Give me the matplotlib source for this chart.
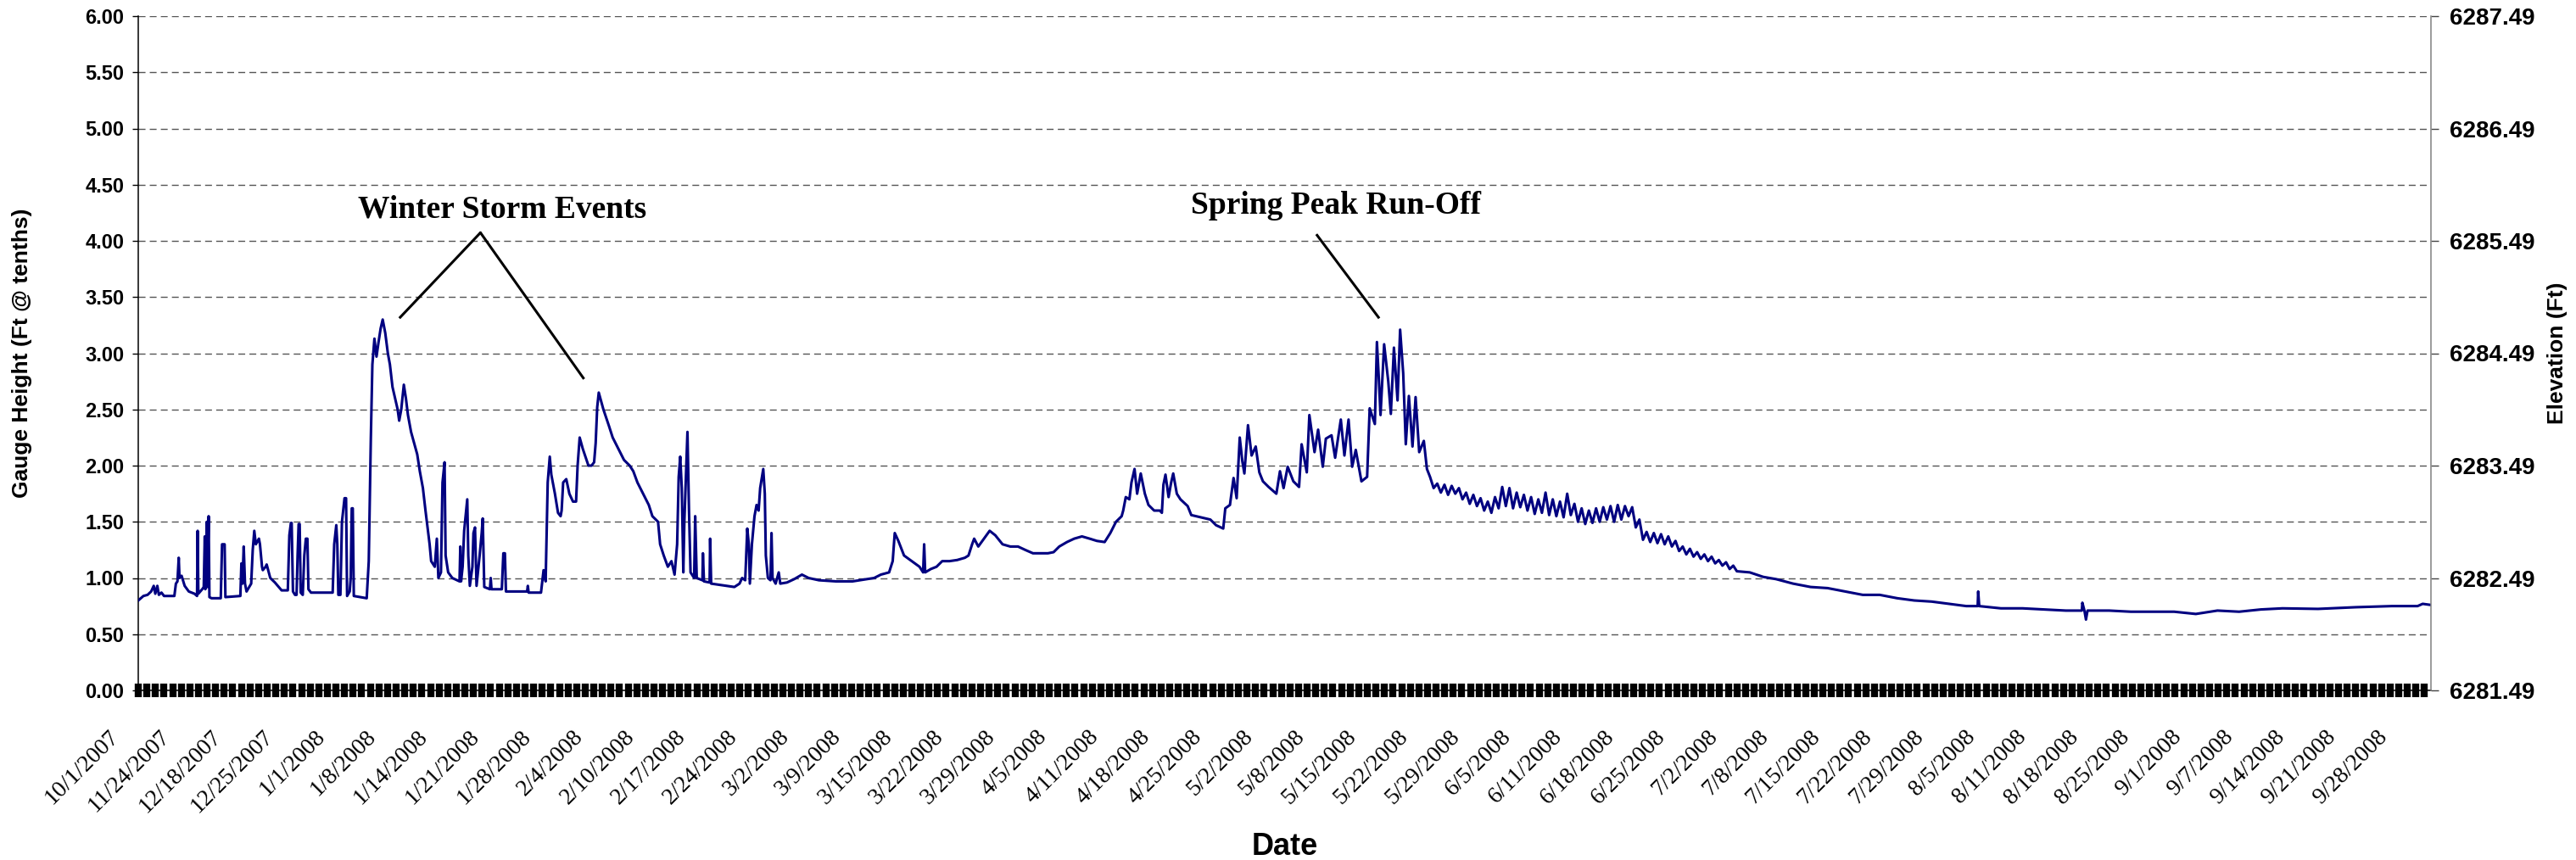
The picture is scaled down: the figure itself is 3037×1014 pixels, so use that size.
import numpy as np
import matplotlib
matplotlib.use("Agg")
import matplotlib.pyplot as plt
from matplotlib.ticker import MultipleLocator
from matplotlib.transforms import ScaledTranslation

# category axis: one unit = one labelled interval (about one week of readings)
date_labels = ["10/1/2007", "11/24/2007", "12/18/2007", "12/25/2007", "1/1/2008", "1/8/2008",
               "1/14/2008", "1/21/2008", "1/28/2008", "2/4/2008", "2/10/2008", "2/17/2008",
               "2/24/2008", "3/2/2008", "3/9/2008", "3/15/2008", "3/22/2008", "3/29/2008",
               "4/5/2008", "4/11/2008", "4/18/2008", "4/25/2008", "5/2/2008", "5/8/2008",
               "5/15/2008", "5/22/2008", "5/29/2008", "6/5/2008", "6/11/2008", "6/18/2008",
               "6/25/2008", "7/2/2008", "7/8/2008", "7/15/2008", "7/22/2008", "7/29/2008",
               "8/5/2008", "8/11/2008", "8/18/2008", "8/25/2008", "9/1/2008", "9/7/2008",
               "9/14/2008", "9/21/2008", "9/28/2008"]
n_positions = 44.46

# gauge readings: position along the category axis and gauge height (ft)
winter_pos = [0.00, 0.05, 0.10, 0.18, 0.25, 0.30, 0.33, 0.37, 0.40, 0.45,
              0.50, 0.70, 0.73, 0.76, 0.785, 0.80, 0.84, 0.90, 0.98, 1.09,
              1.14, 1.152, 1.165, 1.24, 1.27, 1.29, 1.30, 1.33, 1.34, 1.365,
              1.38, 1.42, 1.60, 1.625, 1.675, 1.69, 1.98, 2.00, 2.02, 2.045,
              2.07, 2.10, 2.19, 2.22, 2.25, 2.28, 2.34, 2.36, 2.40, 2.415,
              2.47, 2.49, 2.56, 2.65, 2.78, 2.90, 2.93, 2.96, 2.975, 3.00,
              3.04, 3.07, 3.09, 3.11, 3.13, 3.15, 3.19, 3.22, 3.25, 3.28,
              3.30, 3.35, 3.77, 3.80, 3.84, 3.86, 3.88, 3.92, 3.95, 4.00,
              4.03, 4.05, 4.10, 4.12, 4.14, 4.16, 4.18, 4.43, 4.47, 4.51,
              4.54, 4.58, 4.62, 4.66, 4.70, 4.74, 4.79, 4.84, 4.88, 4.93,
              4.98, 5.03, 5.06, 5.10, 5.15, 5.19, 5.23, 5.29, 5.35, 5.41,
              5.46, 5.52, 5.57, 5.61, 5.65, 5.68, 5.75, 5.79, 5.82, 5.87,
              5.90, 5.94, 5.96, 6.01, 6.09, 6.23, 6.245, 6.26, 6.29, 6.32,
              6.38, 6.40, 6.43, 6.48, 6.50, 6.53, 6.56, 6.62, 6.66, 6.68,
              6.71, 6.82, 6.835, 6.85, 7.05, 7.08, 7.11, 7.13, 7.54, 7.555,
              7.57, 7.81, 7.86, 7.90, 7.94, 7.98, 8.01, 8.08, 8.14, 8.19,
              8.21, 8.24, 8.30, 8.36, 8.43, 8.49, 8.52, 8.56, 8.62, 8.73,
              8.79, 8.84, 8.87, 8.90, 8.93, 9.02, 9.13, 9.20, 9.31, 9.42,
              9.53, 9.60, 9.68, 9.79, 9.90, 9.97, 10.08, 10.12, 10.19, 10.27,
              10.34, 10.40, 10.45, 10.48, 10.51, 10.54, 10.57, 10.59, 10.62, 10.65,
              10.68, 10.71, 10.78, 10.80, 10.83, 10.94, 10.95, 10.97, 11.08, 11.09,
              11.11, 11.56, 11.66, 11.71, 11.77, 11.81, 11.84, 11.86, 11.90, 11.95,
              11.99, 12.03, 12.06, 12.12, 12.15, 12.17, 12.21, 12.26, 12.28, 12.30,
              12.36, 12.42, 12.45, 12.58, 12.72, 12.87, 13.00, 13.20, 13.53, 13.85,
              14.27, 14.40, 14.56]
winter_ft = [0.80, 0.82, 0.84, 0.85, 0.88, 0.93, 0.86, 0.93, 0.85, 0.87,
             0.84, 0.84, 0.95, 0.97, 1.18, 1.00, 1.02, 0.93, 0.88, 0.86,
             0.84, 1.42, 0.86, 0.90, 0.92, 1.37, 0.90, 1.50, 0.92, 1.55,
             0.83, 0.82, 0.82, 1.30, 1.30, 0.83, 0.84, 1.13, 0.95, 1.28,
             0.95, 0.88, 0.95, 1.25, 1.42, 1.30, 1.35, 1.30, 1.10, 1.07,
             1.10, 1.12, 1.00, 0.96, 0.89, 0.89, 1.38, 1.49, 1.49, 0.88,
             0.85, 0.85, 1.20, 1.48, 1.48, 0.87, 0.85, 1.20, 1.35, 1.35,
             0.90, 0.87, 0.87, 1.30, 1.47, 1.30, 0.85, 0.85, 1.50, 1.71,
             1.71, 0.84, 0.88, 1.00, 1.62, 1.62, 0.84, 0.82, 1.15, 2.24,
             2.90, 3.13, 2.97, 3.10, 3.22, 3.30, 3.18, 3.00, 2.90, 2.70,
             2.60, 2.50, 2.40, 2.50, 2.72, 2.60, 2.45, 2.30, 2.20, 2.10,
             1.95, 1.80, 1.60, 1.45, 1.30, 1.15, 1.10, 1.35, 1.00, 1.05,
             1.85, 2.03, 1.20, 1.05, 1.00, 0.97, 1.28, 0.97, 1.10, 1.42,
             1.70, 1.20, 0.93, 1.10, 1.40, 1.45, 0.93, 1.20, 1.40, 1.53,
             0.92, 0.90, 1.00, 0.90, 0.90, 1.22, 1.22, 0.88, 0.88, 0.93,
             0.87, 0.87, 1.07, 0.97, 1.85, 2.08, 1.92, 1.75, 1.58, 1.55,
             1.60, 1.85, 1.88, 1.75, 1.68, 1.68, 2.00, 2.25, 2.15, 2.00,
             2.00, 2.03, 2.20, 2.52, 2.65, 2.50, 2.35, 2.25, 2.15, 2.05,
             2.00, 1.95, 1.85, 1.75, 1.65, 1.55, 1.50, 1.30, 1.20, 1.10,
             1.15, 1.03, 1.30, 1.90, 2.08, 1.80, 1.05, 1.50, 1.90, 2.30,
             1.60, 1.05, 1.00, 1.55, 1.00, 0.98, 1.22, 0.97, 0.96, 1.35,
             0.95, 0.92, 0.95, 1.00, 0.98, 1.44, 1.30, 0.95, 1.30, 1.55,
             1.65, 1.60, 1.80, 1.97, 1.75, 1.20, 1.00, 0.98, 1.40, 1.00,
             0.95, 1.05, 0.95, 0.96, 0.99, 1.03, 1.00, 0.98, 0.97, 0.97,
             1.00, 1.03, 1.05]

spring_pos = [14.63, 14.67, 14.74, 14.85, 15.00, 15.15, 15.22, 15.24, 15.26, 15.37,
              15.48, 15.59, 15.73, 15.88, 16.03, 16.10, 16.17, 16.21, 16.29, 16.40,
              16.51, 16.62, 16.76, 16.91, 17.06, 17.20, 17.35, 17.64, 17.75, 17.86,
              18.01, 18.15, 18.30, 18.45, 18.59, 18.74, 18.85, 18.96, 19.07, 19.10,
              19.15, 19.22, 19.26, 19.32, 19.37, 19.44, 19.52, 19.59, 19.70, 19.81,
              19.85, 19.88, 19.92, 19.98, 20.03, 20.07, 20.14, 20.21, 20.35, 20.42,
              20.79, 20.90, 21.04, 21.08, 21.17, 21.24, 21.30, 21.36, 21.41, 21.45,
              21.52, 21.59, 21.67, 21.74, 21.81, 21.92, 22.07, 22.14, 22.21, 22.29,
              22.40, 22.51, 22.56, 22.66, 22.71, 22.81, 22.88, 22.97, 23.03, 23.14,
              23.21, 23.32, 23.39, 23.47, 23.54, 23.61, 23.72, 23.83, 23.88, 23.98,
              24.02, 24.06, 24.09, 24.16, 24.24, 24.29, 24.35, 24.42, 24.47, 24.53,
              24.58, 24.64, 24.71, 24.77, 24.84, 24.93, 24.99]
spring_ft = [1.15, 1.40, 1.33, 1.20, 1.15, 1.10, 1.05, 1.30, 1.05, 1.08,
             1.10, 1.15, 1.15, 1.16, 1.18, 1.20, 1.30, 1.35, 1.28, 1.35,
             1.42, 1.38, 1.30, 1.28, 1.28, 1.25, 1.22, 1.22, 1.23, 1.28,
             1.32, 1.35, 1.37, 1.35, 1.33, 1.32, 1.40, 1.50, 1.55, 1.60,
             1.72, 1.70, 1.85, 1.97, 1.75, 1.93, 1.75, 1.65, 1.60, 1.60,
             1.58, 1.83, 1.92, 1.72, 1.85, 1.93, 1.75, 1.70, 1.64, 1.56,
             1.52, 1.47, 1.44, 1.62, 1.65, 1.89, 1.71, 2.25, 2.04, 1.93,
             2.36, 2.09, 2.17, 1.94, 1.86, 1.81, 1.75, 1.95, 1.80, 1.99,
             1.86, 1.81, 2.19, 1.94, 2.45, 2.12, 2.32, 1.99, 2.24, 2.27,
             2.07, 2.41, 2.09, 2.41, 1.99, 2.14, 1.86, 1.90, 2.51, 2.37,
             3.10, 2.75, 2.45, 3.08, 2.75, 2.46, 3.05, 2.58, 3.21, 2.82,
             2.19, 2.62, 2.17, 2.61, 2.12, 2.22, 1.97]

# recession after the peak, read at the daily highs and lows
recession_pos = [25.05, 25.12, 25.19, 25.26, 25.33, 25.40, 25.47, 25.54, 25.61, 25.68,
                 25.75, 25.82, 25.89, 25.96, 26.03, 26.10, 26.17, 26.24, 26.31, 26.38,
                 26.45, 26.52, 26.59, 26.66, 26.73, 26.80, 26.87, 26.94, 27.01, 27.08,
                 27.15, 27.22, 27.29, 27.36, 27.43, 27.50, 27.57, 27.64, 27.71, 27.78,
                 27.85, 27.92, 27.99, 28.06, 28.13, 28.20, 28.27, 28.34, 28.41, 28.48,
                 28.55, 28.62, 28.69, 28.76, 28.83, 28.90, 28.97, 29.04, 29.11, 29.18,
                 29.25, 29.32, 29.39, 29.46, 29.53, 29.60, 29.67, 29.74, 29.81, 29.88,
                 29.95, 30.02, 30.09, 30.16, 30.23, 30.30, 30.37, 30.44, 30.51, 30.58,
                 30.65, 30.72, 30.79, 30.86, 30.93, 31.00]
recession_ft = [1.90, 1.80, 1.84, 1.76, 1.83, 1.74, 1.82, 1.75, 1.80, 1.70,
                1.76, 1.66, 1.74, 1.64, 1.71, 1.60, 1.68, 1.58, 1.72, 1.62,
                1.81, 1.64, 1.80, 1.62, 1.76, 1.63, 1.74, 1.60, 1.72, 1.57,
                1.70, 1.58, 1.76, 1.56, 1.70, 1.55, 1.68, 1.54, 1.75, 1.56,
                1.66, 1.50, 1.62, 1.48, 1.60, 1.49, 1.62, 1.50, 1.63, 1.52,
                1.64, 1.50, 1.65, 1.52, 1.64, 1.55, 1.63, 1.45, 1.52, 1.34,
                1.41, 1.32, 1.40, 1.31, 1.39, 1.30, 1.37, 1.28, 1.33, 1.24,
                1.28, 1.21, 1.26, 1.19, 1.23, 1.17, 1.21, 1.15, 1.19, 1.13,
                1.16, 1.11, 1.14, 1.08, 1.11, 1.06]

summer_pos = [31.25, 31.51, 31.76, 32.09, 32.43, 32.76, 33.10, 33.44, 33.77, 34.11,
              34.44, 34.78, 35.11, 35.45, 35.67, 35.68, 35.70, 36.12, 36.54, 36.96,
              37.38, 37.69, 37.70, 37.74, 37.77, 37.80, 38.22, 38.64, 39.06, 39.48,
              39.90, 40.32, 40.74, 41.16, 41.58, 42.27, 43.00, 43.70, 44.20, 44.30,
              44.46]
summer_ft = [1.05, 1.01, 0.99, 0.95, 0.92, 0.91, 0.88, 0.85, 0.85, 0.82,
             0.80, 0.79, 0.77, 0.75, 0.75, 0.88, 0.75, 0.73, 0.73, 0.72,
             0.71, 0.71, 0.78, 0.71, 0.63, 0.71, 0.71, 0.70, 0.70, 0.70,
             0.68, 0.71, 0.70, 0.72, 0.73, 0.725, 0.74, 0.75, 0.75, 0.77,
             0.76]

datum_ft = 6281.49   # elevation of gauge zero

# annotations: text, text anchor, leader lines (start, end)
winter_text = "Winter Storm Events"
winter_xy = (4.26, 4.21)
winter_leaders = [((6.63, 4.07), (5.08, 3.32)), ((6.64, 4.07), (8.63, 2.78))]
spring_text = "Spring Peak Run-Off"
spring_xy = (20.41, 4.24)
spring_leaders = [((22.86, 4.05), (24.05, 3.32))]

week_pos = winter_pos + spring_pos + recession_pos + summer_pos
gauge_ft = winter_ft + spring_ft + recession_ft + summer_ft

plt.rcParams['lines.scale_dashes'] = False
sans = ['Liberation Sans', 'DejaVu Sans']
serif = ['Liberation Serif', 'DejaVu Serif']

fig = plt.figure(figsize=(30.37, 10.14), dpi=100)
ax = fig.add_axes([163 / 3037, 200 / 1014, 2703 / 3037, 795 / 1014])

ax.plot(week_pos, gauge_ft, color='#000080', lw=2.2, zorder=3)

ax.set_xlim(0, n_positions)
ax.set_ylim(0, 6)
ax.yaxis.grid(True, color='#555555', lw=1.0, linestyle=(0, (5.8, 3.6)))
ax.set_axisbelow(True)
ax.set_yticks(np.arange(0, 6.01, 0.5))
ax.set_yticklabels([f"{v:.2f}" for v in np.arange(0, 6.01, 0.5)],
                   fontsize=17, fontweight='bold', family=sans)
ax.tick_params(axis='y', direction='out', length=5, width=1, pad=7)

ax.set_xticks(np.arange(len(date_labels)))
ax.set_xticklabels(date_labels, rotation=45, ha='right', va='center',
                   rotation_mode='anchor', fontsize=20, family=serif)
ax.xaxis.set_minor_locator(MultipleLocator(1 / 6))
ax.tick_params(axis='x', which='both', direction='inout', length=11.5, width=6,
               color='black', pad=31)
shift = ScaledTranslation(-0.27, 0, fig.dpi_scale_trans)
for lab in ax.get_xticklabels():
    lab.set_transform(lab.get_transform() + shift)

ax.spines['top'].set_visible(False)
ax.spines['right'].set_visible(False)
ax.spines['left'].set_linewidth(1.1)
ax.spines['bottom'].set_linewidth(1.1)

ax2 = ax.twinx()
ax2.set_ylim(datum_ft, datum_ft + 6)
ax2.set_yticks(np.arange(datum_ft, datum_ft + 6.01, 1.0))
ax2.set_yticklabels([f"{v:.2f}" for v in np.arange(datum_ft, datum_ft + 6.01, 1.0)],
                    fontsize=20, fontweight='bold', family=sans)
ax2.tick_params(axis='y', direction='out', length=6.5, width=1, color='#444444', pad=9)
for s in ['top', 'left', 'bottom']:
    ax2.spines[s].set_visible(False)
ax2.spines['right'].set_color('#808080')
ax2.spines['right'].set_linewidth(1.1)

for (x0, y0), (x1, y1) in winter_leaders + spring_leaders:
    ax.plot([x0, x1], [y0, y1], color='black', lw=2.2, zorder=4)
ax.text(*winter_xy, winter_text, fontsize=27, fontweight='bold', family=serif,
        ha='left', va='baseline')
ax.text(*spring_xy, spring_text, fontsize=27, fontweight='bold', family=serif,
        ha='left', va='baseline')

fig.text(26 / 3037, 1 - 416 / 1014, "Gauge Height (Ft @ tenths)", rotation=90,
         ha='center', va='center', fontsize=19, fontweight='bold', family=sans)
fig.text(3015 / 3037, 1 - 416 / 1014, "Elevation (Ft)", rotation=90,
         ha='center', va='center', fontsize=19, fontweight='bold', family=sans)
fig.text(1515 / 3037, 6 / 1014, "Date", ha='center', va='baseline',
         fontsize=26, fontweight='bold', family=sans)

fig.savefig("out.png", dpi=100)
